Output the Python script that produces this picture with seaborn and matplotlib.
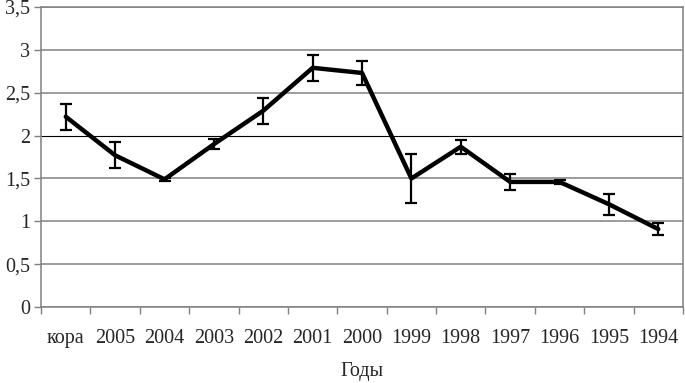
import matplotlib
matplotlib.use("Agg")
import matplotlib.pyplot as plt
import matplotlib.ticker as mticker
import seaborn as sns
import pandas as pd
import numpy as np

categories = ["кора", "2005", "2004", "2003", "2002", "2001", "2000",
              "1999", "1998", "1997", "1996", "1995", "1994"]
values = [2.22, 1.77, 1.49, 1.90, 2.29, 2.79, 2.73, 1.50, 1.87, 1.46, 1.46, 1.20, 0.91]
errors = [0.15, 0.15, 0.02, 0.06, 0.15, 0.15, 0.14, 0.29, 0.08, 0.09, 0.02, 0.12, 0.07]
y_ticks = [0, 0.5, 1, 1.5, 2, 2.5, 3, 3.5]
x_label = "Годы"

sns.set_theme(style="white")
plt.rcParams['font.family'] = ['Liberation Serif', 'DejaVu Serif']
plt.rcParams['font.size'] = 14.5

df = pd.DataFrame({"pos": np.arange(len(categories)), "value": values, "err": errors})

fig = plt.figure(figsize=(6.85, 3.83), dpi=100)
ax = fig.add_axes([0.060, 0.198, 0.937, 0.784])

sns.lineplot(data=df, x="pos", y="value", ax=ax, color="black", linewidth=3.2,
             zorder=3, errorbar=None)
ax.errorbar(df["pos"], df["value"], yerr=df["err"], fmt="none", ecolor="black",
            elinewidth=1.6, capsize=4, capthick=1.6, zorder=4)

ax.set_xlim(-0.5, len(categories) - 0.5)
ax.set_ylim(0, 3.5)
ax.set_yticks(y_ticks)
ax.yaxis.set_major_formatter(mticker.FuncFormatter(
    lambda v, p: ("%g" % v).replace(".", ",")))

# Excel-style category axis: ticks at boundaries, labels centred
ax.set_xticks(np.arange(len(categories) + 1) - 0.5)
ax.set_xticklabels([])
ax.set_xticks(np.arange(len(categories)), minor=True)
ax.set_xticklabels(categories, minor=True)
ax.tick_params(axis="x", which="major", length=5, width=1, color="#808080",
               direction="out", bottom=True)
ax.tick_params(axis="x", which="minor", length=0, pad=16, labelsize=14.5)
ax.tick_params(axis="y", which="major", length=5, width=1, color="#808080",
               direction="out", left=True, pad=3, labelsize=14.5)

ax.grid(axis="y", color="#808080", linewidth=1.1)
ax.set_axisbelow(True)
for tv, gl in zip(ax.get_yticks(), ax.get_ygridlines()):
    if abs(tv - 2) < 1e-9:
        gl.set_color("black")
        gl.set_linewidth(0.8)

for s in ax.spines.values():
    s.set_visible(True)
    s.set_color("#808080")
    s.set_linewidth(1.1)

ax.set_xlabel(x_label, fontsize=14.5, labelpad=10)
ax.set_ylabel("")

fig.savefig("out.png", dpi=100, facecolor="white")
